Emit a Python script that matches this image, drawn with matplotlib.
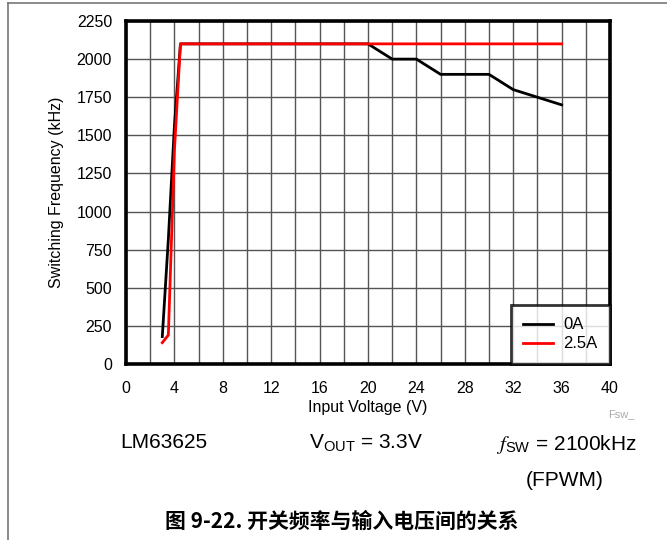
import matplotlib
matplotlib.use("Agg")
import matplotlib.pyplot as plt
from matplotlib.lines import Line2D

# Data
v_0a = [3.0, 3.5, 4.0, 4.5, 20, 22, 24, 26, 28, 30, 32, 34, 36]
f_0a = [180, 820, 1560, 2100, 2100, 2000, 2000, 1900, 1900, 1900, 1800, 1750, 1700]
v_25a = [3.0, 3.5, 4.0, 4.5, 36]
f_25a = [140, 190, 1400, 2100, 2100]
x_ticks = [0, 4, 8, 12, 16, 20, 24, 28, 32, 36, 40]
y_ticks = [0, 250, 500, 750, 1000, 1250, 1500, 1750, 2000, 2250]
series_labels = ["0A", "2.5A"]

plt.rcParams['font.family'] = ['Liberation Sans', 'DejaVu Sans']

W, H = 667, 540
fig = plt.figure(figsize=(W / 100, H / 100), dpi=100)
ax = fig.add_axes([126 / W, 1 - 364 / H, (610 - 126) / W, (364 - 21) / H])

ax.plot(v_0a, f_0a, color='black', lw=2.0, label=series_labels[0], zorder=3)
ax.plot(v_25a, f_25a, color='#ff0000', lw=2.0, label=series_labels[1], zorder=4)

ax.set_xlim(0, 40)
ax.set_ylim(0, 2250)
ax.set_xticks(x_ticks)
ax.set_yticks(y_ticks)
ax.set_xticks(range(0, 41, 2), minor=True)
ax.tick_params(axis='both', which='both', length=0, labelsize=11.5)
ax.tick_params(axis='x', pad=12)
ax.tick_params(axis='y', pad=10)
ax.grid(True, which='both', color='#555555', lw=1.0)
ax.set_axisbelow(True)
for s in ax.spines.values():
    s.set_linewidth(2.6)
    s.set_color('black')

ax.set_xlabel("Input Voltage (V)", fontsize=11.5, labelpad=3)
ax.set_ylabel("Switching Frequency (kHz)", fontsize=11.5, labelpad=9)

leg = ax.legend(loc='lower right', fontsize=12, frameon=True, fancybox=False,
                borderaxespad=0, handlelength=1.8, labelspacing=0.25,
                borderpad=0.75, handletextpad=0.6)
leg.get_frame().set_edgecolor('black')
leg.get_frame().set_linewidth(2.0)

# Frame lines of the page
fig.add_artist(Line2D([8 / W, 1], [1 - 3 / H, 1 - 3 / H], color='#777777', lw=1.2))
fig.add_artist(Line2D([8 / W, 8 / W], [0, 1 - 3 / H], color='#777777', lw=1.2))

fig.text(621 / W, 1 - 414 / H, "Fsw_", fontsize=8, color='#aaaaaa', ha='center', va='center')
fig.text(164 / W, 1 - 443 / H, "LM63625", fontsize=15, ha='center', va='center')
fig.text(366 / W, 1 - 443 / H, r"V$_{\mathregular{OUT}}$ = 3.3V", fontsize=15, ha='center', va='center')
fig.text(566 / W, 1 - 445 / H, r"$\mathit{f}$$_{\mathregular{SW}}$ = 2100kHz", fontsize=15, ha='center', va='center',
         math_fontfamily='stix')
fig.text(565 / W, 1 - 481 / H, "(FPWM)", fontsize=15, ha='center', va='center')
fig.text(342 / W, 1 - 521 / H, "图 9-22. 开关频率与输入电压间的关系", fontsize=15,
         fontweight='bold', ha='center', va='center',
         family=['Noto Sans CJK SC', 'Liberation Sans'])

fig.savefig("out.png", dpi=100)
